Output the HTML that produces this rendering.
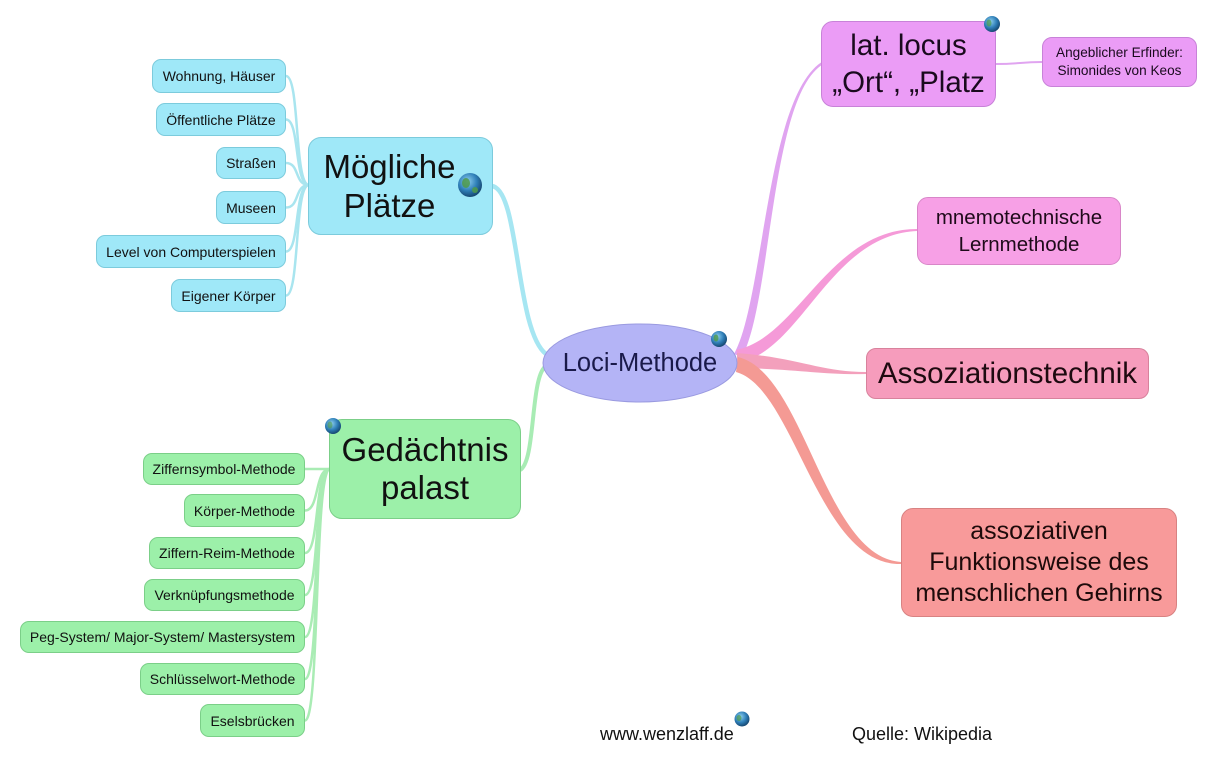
<!DOCTYPE html>
<html><head><meta charset="utf-8"><style>
html,body{margin:0;padding:0;background:#fff;}
#c{position:relative;width:1218px;height:774px;overflow:hidden;font-family:"Liberation Sans",Arial,sans-serif;}
.b{position:absolute;box-sizing:border-box;display:flex;align-items:center;justify-content:center;text-align:center;border:1px solid;border-radius:9px;color:#111;white-space:nowrap;}
.cy{background:#9fe8f8;border-color:#7ccbdc;font-size:14px;}
.gr{background:#9cf0a9;border-color:#7bcf88;font-size:14px;}
svg{position:absolute;left:0;top:0;}
.t{position:absolute;font-size:18px;color:#111;white-space:nowrap;}
</style></head><body><div id="c">
<svg width="1218" height="774" viewBox="0 0 1218 774">
<defs>
<radialGradient id="g" cx="0.4" cy="0.35" r="0.7">
<stop offset="0" stop-color="#8fd0f0"/><stop offset="0.55" stop-color="#2f7fb8"/><stop offset="1" stop-color="#123f66"/>
</radialGradient>
</defs>
<!-- cyan bus -->
<g fill="none" stroke="#a9e5ef" stroke-width="2.5">
<path d="M286 76 C300 76,294 185,309 185"/>
<path d="M286 119.5 C300 119.5,294 185,309 185"/>
<path d="M286 163 C300 163,294 185,309 185"/>
<path d="M286 207.5 C300 207.5,294 185,309 185"/>
<path d="M286 251.5 C300 251.5,294 185,309 185"/>
<path d="M286 295.5 C300 295.5,294 185,309 185"/>
</g>
<!-- green bus -->
<g fill="none" stroke="#a9ecb4" stroke-width="2.5">
<path d="M305 469 C320 469,314 469,330 469"/>
<path d="M305 510.5 C320 510.5,314 469,330 469"/>
<path d="M305 553 C320 553,314 469,330 469"/>
<path d="M305 595 C320 595,314 469,330 469"/>
<path d="M305 637 C320 637,314 469,330 469"/>
<path d="M305 679 C320 679,314 469,330 469"/>
<path d="M305 720.5 C320 720.5,314 469,330 469"/>
</g>
<!-- main left connectors -->
<path d="M492 186 C520 190,515 330,546 354" fill="none" stroke="#a6e6f2" stroke-width="4.5"/>
<path d="M546 366 C530 376,536 462,520 470" fill="none" stroke="#a8ecb4" stroke-width="4"/>
<!-- right connectors (tapered) -->
<path d="M734 354 C764 300,766 100,821 62.5 L821 65.5 C770 102,772 300,742 357 Z" fill="#e0a4f0"/>
<path d="M736 350 C798 338,829 229,917 229 L917 231 C830 235,802 350,740 362 Z" fill="#f59ad8"/>
<path d="M737 353 C800 358,820 372,866 372 L866 374 C820 375,800 369,737 368 Z" fill="#f3a0bc"/>
<path d="M738 357 C805 373,824 557,901 562 L901 564 C818 566,795 388,736 372 Z" fill="#f49a94"/>
<path d="M996 64 C1020 64,1020 62,1042 62" fill="none" stroke="#e0a4f0" stroke-width="2"/>
<!-- ellipse -->
<ellipse cx="640" cy="363" rx="97" ry="39" fill="#b4b4f6" stroke="#9a9ae0" stroke-width="1"/>
</svg>

<div class="b" style="left:543px;top:324px;width:194px;height:78px;border:none;background:transparent;font-size:25.5px;color:#1a1a4a;">Loci-Methode</div>

<!-- Mögliche Plätze -->
<div class="b" style="left:308px;top:137px;width:185px;height:98px;background:#9fe8f8;border-color:#7ccbdc;border-radius:13px;font-size:33px;line-height:39px;padding-right:22px;">Mögliche<br>Plätze</div>
<div class="b cy" style="left:152px;top:59px;width:134px;height:34px;">Wohnung, Häuser</div>
<div class="b cy" style="left:156px;top:103px;width:130px;height:33px;">Öffentliche Plätze</div>
<div class="b cy" style="left:216px;top:147px;width:70px;height:32px;">Straßen</div>
<div class="b cy" style="left:216px;top:191px;width:70px;height:33px;">Museen</div>
<div class="b cy" style="left:96px;top:235px;width:190px;height:33px;">Level von Computerspielen</div>
<div class="b cy" style="left:171px;top:279px;width:115px;height:33px;">Eigener Körper</div>

<!-- Gedächtnis palast -->
<div class="b" style="left:329px;top:419px;width:192px;height:100px;background:#9cf0a9;border-color:#7bcf88;border-radius:13px;font-size:33px;line-height:38px;">Gedächtnis<br>palast</div>
<div class="b gr" style="left:143px;top:453px;width:162px;height:32px;">Ziffernsymbol-Methode</div>
<div class="b gr" style="left:184px;top:494px;width:121px;height:33px;">Körper-Methode</div>
<div class="b gr" style="left:149px;top:537px;width:156px;height:32px;">Ziffern-Reim-Methode</div>
<div class="b gr" style="left:144px;top:579px;width:161px;height:32px;">Verknüpfungsmethode</div>
<div class="b gr" style="left:20px;top:621px;width:285px;height:32px;">Peg-System/ Major-System/ Mastersystem</div>
<div class="b gr" style="left:140px;top:663px;width:165px;height:32px;">Schlüsselwort-Methode</div>
<div class="b gr" style="left:200px;top:704px;width:105px;height:33px;">Eselsbrücken</div>

<!-- right side -->
<div class="b" style="left:821px;top:21px;width:175px;height:86px;background:#eb9cf6;border-color:#c882d8;border-radius:12px;font-size:29.5px;line-height:37px;color:#1a0a1e;">lat. locus<br>„Ort“, „Platz</div>
<div class="b" style="left:1042px;top:37px;width:155px;height:50px;background:#eb9cf6;border-color:#c882d8;border-radius:10px;font-size:13.6px;line-height:18px;color:#1a0a1e;">Angeblicher Erfinder:<br>Simonides von Keos</div>
<div class="b" style="left:917px;top:197px;width:204px;height:68px;background:#f7a0e6;border-color:#d886c8;border-radius:11px;font-size:20.5px;line-height:27px;color:#1e0a1a;">mnemotechnische<br>Lernmethode</div>
<div class="b" style="left:866px;top:348px;width:283px;height:51px;background:#f69cbc;border-color:#d8829c;border-radius:10px;font-size:29.5px;color:#1e0a10;">Assoziationstechnik</div>
<div class="b" style="left:901px;top:508px;width:276px;height:109px;background:#f89a9a;border-color:#d88282;border-radius:12px;font-size:25px;line-height:31px;color:#1e0a0a;">assoziativen<br>Funktionsweise des<br>menschlichen Gehirns</div>

<div class="t" style="left:600px;top:724px;">www.wenzlaff.de</div>
<div class="t" style="left:852px;top:724px;">Quelle: Wikipedia</div>

<svg width="1218" height="774" viewBox="0 0 1218 774" style="pointer-events:none">
<g>
<circle cx="470" cy="185" r="12" fill="url(#g2)"/>
</g>
<defs>
<radialGradient id="g2" cx="0.4" cy="0.35" r="0.7">
<stop offset="0" stop-color="#8fd0f0"/><stop offset="0.55" stop-color="#2f7fb8"/><stop offset="1" stop-color="#123f66"/>
</radialGradient>
</defs>
<g fill="#4f9a4a" opacity="0.85">
<ellipse cx="466" cy="183" rx="4" ry="5"/><ellipse cx="475" cy="190" rx="3" ry="3"/>
</g>
<circle cx="719" cy="339" r="8" fill="url(#g2)"/><ellipse cx="716" cy="338" rx="2.5" ry="3.5" fill="#4f9a4a" opacity="0.8"/>
<circle cx="333" cy="426" r="8" fill="url(#g2)"/><ellipse cx="330" cy="425" rx="2.5" ry="3.5" fill="#4f9a4a" opacity="0.6"/>
<circle cx="992" cy="24" r="8" fill="url(#g2)"/><ellipse cx="989" cy="23" rx="2.5" ry="3.5" fill="#4f9a4a" opacity="0.7"/>
<circle cx="742" cy="719" r="7.5" fill="url(#g2)"/><ellipse cx="739" cy="718" rx="2.5" ry="3" fill="#4f9a4a" opacity="0.7"/>
</svg>
</div></body></html>
